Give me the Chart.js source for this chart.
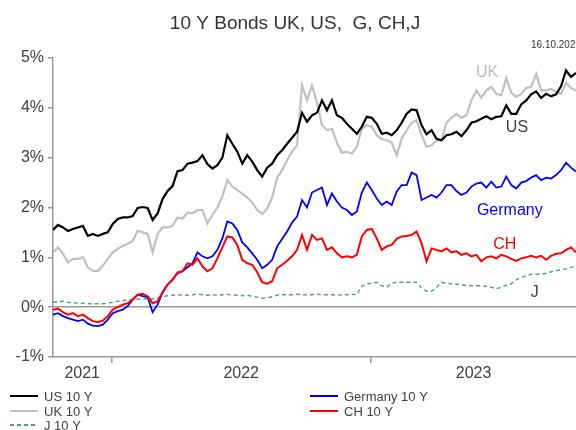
<!doctype html>
<html lang="en">
<head>
<meta charset="utf-8">
<title>10 Y Bonds</title>
<script src="https://cdn.jsdelivr.net/npm/chart.js@4.4.0/dist/chart.umd.min.js"></script>
<style>
  body { margin: 0; background: #fff; }
  #wrap { width: 576px; height: 430px; position: relative; }
</style>
</head>
<body>
<div id="wrap"><canvas id="bonds"></canvas></div>
<script>
// weekly closes, first point 11.10.2021, last 16.10.2023
const startDate = '2021-10-11';
const yearLabels = ['2021', '2022', '2023'];
const yearStarts = ['2022-01-01', '2023-01-01'];
const endDate = '2023-10-16';
const yTicks = [-1, 0, 1, 2, 3, 4, 5];

const us10 = [
  1.55, 1.65, 1.60, 1.53, 1.57, 1.60, 1.63, 1.43, 1.47, 1.43, 1.47, 1.50, 1.67, 1.77, 1.80, 1.80, 1.83, 1.99, 2.01, 1.99, 1.75, 1.88, 2.17, 2.33, 2.43, 2.73,
  2.75, 2.88, 2.90, 2.93, 3.05, 2.87, 2.78, 2.85, 3.00, 3.45, 3.28, 3.12, 2.88, 3.05, 2.92, 2.75, 2.62, 2.80, 2.88, 3.05, 3.15, 3.28, 3.40, 3.52, 3.90, 3.72,
  3.85, 3.90, 4.15, 3.95, 4.15, 3.85, 3.80, 3.68, 3.58, 3.48, 3.62, 3.82, 3.80, 3.68, 3.48, 3.50, 3.45, 3.55, 3.70, 3.88, 3.97, 3.95, 3.65, 3.47, 3.55, 3.38,
  3.35, 3.45, 3.47, 3.52, 3.43, 3.55, 3.70, 3.73, 3.78, 3.83, 3.77, 3.82, 3.83, 4.05, 3.88, 3.88, 4.07, 4.15, 4.27, 4.33, 4.20, 4.28, 4.23, 4.27, 4.43, 4.75, 4.62, 4.70
];
const uk10 = [
  1.10, 1.20, 1.07, 0.90, 0.97, 0.97, 1.00, 0.80, 0.73, 0.73, 0.83, 0.97, 1.10, 1.17, 1.23, 1.27, 1.33, 1.53, 1.50, 1.47, 1.10, 1.47, 1.60, 1.60, 1.63, 1.80,
  1.78, 1.90, 1.88, 1.95, 1.95, 1.68, 1.85, 2.00, 2.22, 2.55, 2.42, 2.35, 2.28, 2.20, 2.10, 1.95, 1.87, 1.98, 2.20, 2.60, 2.75, 2.95, 3.12, 3.25, 4.45, 4.15,
  4.45, 4.10, 3.65, 3.55, 3.58, 3.30, 3.10, 3.12, 3.08, 3.22, 3.58, 3.65, 3.62, 3.45, 3.37, 3.35, 3.30, 3.05, 3.38, 3.55, 3.70, 3.75, 3.45, 3.22, 3.25, 3.35,
  3.35, 3.70, 3.80, 3.88, 3.80, 3.85, 4.15, 4.35, 4.20, 4.35, 4.42, 4.28, 4.25, 4.60, 4.30, 4.22, 4.28, 4.40, 4.42, 4.68, 4.35, 4.35, 4.38, 4.32, 4.28, 4.50, 4.40, 4.35
];
const de10 = [
  -0.15, -0.12, -0.18, -0.22, -0.25, -0.28, -0.25, -0.33, -0.37, -0.38, -0.35, -0.25, -0.12, -0.08, -0.05, 0.02, 0.15, 0.25, 0.22, 0.20, -0.10, 0.05, 0.30, 0.45, 0.55, 0.68,
  0.72, 0.80, 0.88, 1.10, 1.02, 0.98, 1.02, 1.15, 1.38, 1.72, 1.68, 1.55, 1.30, 1.20, 1.08, 0.95, 0.78, 0.85, 0.95, 1.22, 1.37, 1.52, 1.70, 1.82, 2.15, 2.00,
  2.30, 2.35, 2.40, 2.05, 2.28, 2.12, 2.00, 1.95, 1.85, 1.92, 2.30, 2.50, 2.35, 2.18, 2.05, 2.12, 2.05, 2.32, 2.45, 2.45, 2.70, 2.65, 2.15, 2.20, 2.25, 2.20,
  2.30, 2.45, 2.45, 2.33, 2.25, 2.30, 2.42, 2.48, 2.50, 2.40, 2.52, 2.40, 2.42, 2.62, 2.45, 2.38, 2.50, 2.53, 2.60, 2.65, 2.55, 2.60, 2.58, 2.65, 2.75, 2.90, 2.80, 2.72
];
const ch10 = [
  -0.05, -0.03, -0.10, -0.15, -0.12, -0.18, -0.15, -0.22, -0.28, -0.30, -0.27, -0.18, -0.05, 0.00, 0.05, 0.08, 0.15, 0.25, 0.27, 0.22, 0.08, 0.12, 0.30, 0.45, 0.55, 0.70,
  0.72, 0.88, 0.85, 0.98, 0.82, 0.72, 0.78, 0.98, 1.20, 1.42, 1.40, 1.25, 0.95, 0.88, 0.85, 0.70, 0.50, 0.47, 0.52, 0.78, 0.85, 0.93, 1.02, 1.15, 1.45, 1.15,
  1.45, 1.35, 1.38, 1.15, 1.20, 1.08, 1.00, 1.02, 1.00, 1.05, 1.42, 1.55, 1.57, 1.38, 1.15, 1.22, 1.25, 1.37, 1.42, 1.43, 1.45, 1.52, 1.28, 0.92, 1.18, 1.15,
  1.12, 1.18, 1.10, 1.12, 1.05, 1.08, 1.02, 1.05, 0.92, 1.00, 1.02, 0.98, 1.05, 1.02, 0.97, 0.93, 0.98, 1.00, 1.03, 1.00, 1.03, 0.95, 1.03, 1.07, 1.08, 1.15, 1.20, 1.10
];
const jp10 = [
  0.10, 0.11, 0.12, 0.10, 0.09, 0.08, 0.08, 0.07, 0.07, 0.07, 0.07, 0.08, 0.10, 0.12, 0.13, 0.15, 0.15, 0.16, 0.17, 0.17, 0.17, 0.18, 0.21, 0.23, 0.24, 0.24,
  0.25, 0.24, 0.25, 0.26, 0.25, 0.24, 0.25, 0.24, 0.25, 0.26, 0.24, 0.24, 0.23, 0.24, 0.22, 0.20, 0.18, 0.19, 0.21, 0.24, 0.25, 0.25, 0.25, 0.26, 0.25, 0.25,
  0.25, 0.26, 0.25, 0.25, 0.25, 0.24, 0.25, 0.25, 0.26, 0.25, 0.42, 0.47, 0.48, 0.50, 0.43, 0.40, 0.48, 0.50, 0.50, 0.50, 0.50, 0.50, 0.38, 0.32, 0.32, 0.40,
  0.50, 0.48, 0.47, 0.46, 0.45, 0.44, 0.43, 0.43, 0.43, 0.42, 0.40, 0.37, 0.40, 0.44, 0.47, 0.55, 0.60, 0.63, 0.66, 0.66, 0.66, 0.68, 0.71, 0.73, 0.75, 0.77, 0.80, 0.83
];

const FONT = '"Liberation Sans", Arial, sans-serif';
const TXT = '#404040';

function dayOf(s) {
  return Math.round((Date.parse(s) - Date.parse(startDate)) / 86400000);
}
const lastDay = dayOf(endDate);
const bounds = [0].concat(yearStarts.map(dayOf)).concat([lastDay]);
const yearMid = yearLabels.map((l, i) => (bounds[i] + bounds[i + 1]) / 2);
const yearEdge = yearStarts.map(dayOf);

function pts(arr) {
  return arr.map((v, i) => ({ x: Math.min(i * 7, lastDay), y: v }));
}

// text next to the lines, anchored in data units
const tags = [
  { text: 'UK', day: 610, val: 4.70, color: '#bdbdbd' },
  { text: 'US', day: 652, val: 3.60, color: TXT },
  { text: 'Germany', day: 642, val: 1.93, color: '#0000ff' },
  { text: 'CH', day: 635, val: 1.25, color: '#ff0000' },
  { text: 'J', day: 677, val: 0.30, color: TXT }
];

const overlay = {
  id: 'overlay',
  afterDraw(chart) {
    const c = chart.ctx;
    const sx = chart.scales.x, sy = chart.scales.y;
    c.save();
    c.textBaseline = 'middle';
    c.textAlign = 'center';
    c.fillStyle = '#333';
    c.font = '19px ' + FONT;
    c.fillText('10 Y Bonds UK, US,  G, CH,J', 295, 24);
    c.textAlign = 'left';
    c.font = '10px ' + FONT;
    c.fillText('16.10.2023', 531, 45);

    c.font = '16px ' + FONT;
    c.textAlign = 'center';
    tags.forEach(t => {
      c.fillStyle = t.color;
      c.fillText(t.text, sx.getPixelForValue(t.day), sy.getPixelForValue(t.val));
    });

    // two-column legend
    const slots = { 'US 10 Y': [10, 396], 'UK 10 Y': [10, 411], 'J 10 Y': [10, 425],
                    'Germany 10 Y': [310, 396], 'CH 10 Y': [310, 411] };
    c.font = '13px ' + FONT;
    c.textAlign = 'left';
    chart.data.datasets.forEach(ds => {
      const p = slots[ds.label];
      c.strokeStyle = ds.borderColor;
      c.lineWidth = 2;
      c.setLineDash(ds.borderDash || []);
      c.beginPath();
      c.moveTo(p[0], p[1]);
      c.lineTo(p[0] + 28, p[1]);
      c.stroke();
      c.setLineDash([]);
      c.fillStyle = TXT;
      c.fillText(ds.label, p[0] + 34, p[1] + 1);
    });
    c.restore();
  }
};

new Chart(document.getElementById('bonds'), {
  type: 'line',
  data: {
    datasets: [
      { label: 'CH 10 Y', data: pts(ch10), borderColor: '#ff0000', borderWidth: 2 },
      { label: 'Germany 10 Y', data: pts(de10), borderColor: '#0000ff', borderWidth: 1.8 },
      { label: 'US 10 Y', data: pts(us10), borderColor: '#000000', borderWidth: 2.2 },
      { label: 'UK 10 Y', data: pts(uk10), borderColor: '#c0c0c0', borderWidth: 2.2 },
      { label: 'J 10 Y', data: pts(jp10), borderColor: '#4aa872', borderWidth: 1.4, borderDash: [4, 3] }
    ]
  },
  plugins: [overlay],
  options: {
    responsive: true,
    maintainAspectRatio: false,
    animation: false,
    events: [],
    layout: { padding: { top: 58, right: 0, bottom: 0, left: 0 } },
    elements: { point: { radius: 0 }, line: { tension: 0 } },
    plugins: { legend: { display: false }, title: { display: false }, tooltip: { enabled: false } },
    scales: {
      x: {
        type: 'linear',
        min: 0,
        max: lastDay,
        afterBuildTicks(scale) {
          scale.ticks = yearMid.concat(yearEdge).sort((a, b) => a - b).map(v => ({ value: v }));
        },
        afterFit(scale) { scale.height = 73; },
        border: { display: true, color: '#999', width: 1.5 },
        grid: {
          drawOnChartArea: false,
          drawTicks: true,
          tickLength: 6,
          lineWidth: 1.5,
          color: ctx => (ctx.tick && yearEdge.includes(ctx.tick.value)) ? '#999' : 'rgba(0,0,0,0)'
        },
        ticks: {
          autoSkip: false,
          maxRotation: 0,
          padding: 1,
          color: TXT,
          font: { family: FONT, size: 16 },
          callback: v => {
            const i = yearMid.indexOf(v);
            return i >= 0 ? yearLabels[i] : '';
          }
        }
      },
      y: {
        min: yTicks[0],
        max: yTicks[yTicks.length - 1],
        afterBuildTicks(scale) { scale.ticks = yTicks.map(v => ({ value: v })); },
        afterFit(scale) { scale.width = 53; },
        border: { display: true, color: '#999', width: 1.5 },
        grid: {
          drawOnChartArea: true,
          tickLength: 5,
          lineWidth: 1.5,
          color: ctx => (ctx.tick && ctx.tick.value === 0) ? '#999' : 'rgba(0,0,0,0)',
          tickColor: '#999'
        },
        ticks: {
          padding: 4,
          color: TXT,
          font: { family: FONT, size: 16 },
          callback: v => v + '%'
        }
      }
    }
  }
});
</script>
</body>
</html>
